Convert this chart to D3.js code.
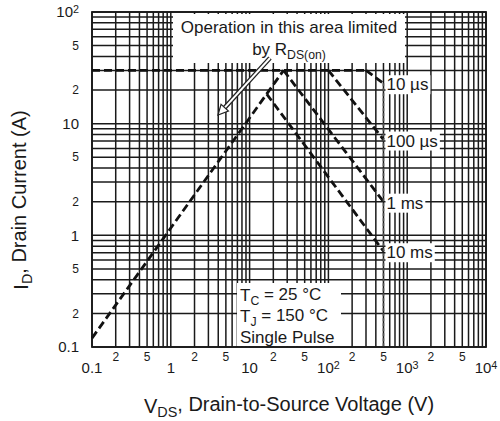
<!DOCTYPE html>
<html>
<head>
<meta charset="utf-8">
<script src="https://cdn.jsdelivr.net/npm/d3@7"></script>
<style>
  body { margin: 0; background: #fff; }
  text { font-family: "Liberation Sans", Arial, sans-serif; fill: #1a1a1a; }
</style>
</head>
<body>
<div class="chart"></div>
<script>
// size
var w = 500;
var h = 421;

// axes
const xDecades = [0.1, 1, 10, 100, 1000, 10000];
const xMajorLabels = ["0.1", "1", "10", "10|2", "10|3", "10|4"];
const yDecades = [0.1, 1, 10, 100];
const yMajorLabels = ["0.1", "1", "10", "10|2"];
const minorLabelled = [2, 5];

// SOA limit lines (V, A)
const rdsLimit = [[0.1, 0.12], [27, 30]];
const currentLimit = [[0.1, 30], [300, 30]];
const pulse10us = [[300, 30], [500, 23]];
const pulse100us = [[100, 30], [500, 7.2]];
const pulse1ms = [[27, 30], [500, 2.0]];
const pulse10ms = [[16.5, 18.4], [500, 0.72]];
const vdssLimit = [[500, 23], [500, 0.1]];
const pulseLabels = ["10 µs", "100 µs", "1 ms", "10 ms"];

const svg = d3.select(".chart")
  .append("svg")
  .attr("width", w)
  .attr("height", h);

svg.append("rect").attr("width", w).attr("height", h).attr("fill", "#fff");

const x = d3.scaleLog().domain([0.1, 10000]).range([92, 486]);
const y = d3.scaleLog().domain([0.1, 100]).range([347, 12]);

// every 1..9 value of each decade
function gridValues(decades) {
  const out = [];
  decades.forEach((d, i) => {
    if (i === decades.length - 1) { out.push(d); return; }
    for (let k = 1; k <= 9; k++) out.push(k * d);
  });
  return out;
}

const g = svg.append("g");

// grid
g.selectAll(".vgrid")
  .data(gridValues(xDecades))
  .enter()
  .append("line")
  .attr("x1", d => x(d)).attr("x2", d => x(d))
  .attr("y1", y(0.1)).attr("y2", y(100))
  .attr("stroke", "#1a1a1a")
  .attr("stroke-width", 1.5);

g.selectAll(".hgrid")
  .data(gridValues(yDecades))
  .enter()
  .append("line")
  .attr("y1", d => y(d)).attr("y2", d => y(d))
  .attr("x1", x(0.1)).attr("x2", x(10000))
  .attr("stroke", "#1a1a1a")
  .attr("stroke-width", 1.5);

g.append("rect")
  .attr("x", x(0.1)).attr("y", y(100))
  .attr("width", x(10000) - x(0.1))
  .attr("height", y(0.1) - y(100))
  .attr("fill", "none")
  .attr("stroke", "#1a1a1a")
  .attr("stroke-width", 1.8);

// white boxes behind the notes
g.append("rect").attr("x", 173).attr("y", 14).attr("width", 232).attr("height", 49).attr("fill", "#fff");
g.append("rect").attr("x", 237).attr("y", 283).attr("width", 104).attr("height", 63).attr("fill", "#fff");

// helper: text with a subscript
function subText(sel, main, sub, rest) {
  sel.append("tspan").text(main);
  sel.append("tspan").attr("dy", "0.3em").attr("font-size", "0.72em").text(sub);
  sel.append("tspan").attr("dy", "-0.3em").text(rest);
  return sel;
}

// limit lines
const line = d3.line().x(d => x(d[0])).y(d => y(d[1]));
[rdsLimit, currentLimit, pulse10us, pulse100us, pulse1ms, pulse10ms].forEach(s => {
  g.append("path")
    .datum(s)
    .attr("d", line)
    .attr("fill", "none")
    .attr("stroke", "#111")
    .attr("stroke-width", 2.8)
    .attr("stroke-dasharray", "8,4");
});

g.append("path")
  .datum(vdssLimit)
  .attr("d", line)
  .attr("fill", "none")
  .attr("stroke", "#555")
  .attr("stroke-width", 1.6)
  .attr("stroke-dasharray", "3,2");

// pulse labels with white background
[pulse10us, pulse100us, pulse1ms, pulse10ms].forEach((s, i) => {
  const end = s[s.length - 1];
  const lg = g.append("g");
  const t = lg.append("text")
    .attr("x", x(end[0]) + 3)
    .attr("y", y(end[1]) + 1)
    .attr("dy", "0.35em")
    .attr("font-size", 17)
    .text(pulseLabels[i]);
  const b = t.node().getBBox();
  lg.insert("rect", "text")
    .attr("x", b.x - 1).attr("y", b.y)
    .attr("width", b.width + 3).attr("height", b.height)
    .attr("fill", "#fff");
});

// R_DS(on) note
g.append("text").attr("x", 289).attr("y", 33)
  .attr("text-anchor", "middle").attr("font-size", 17)
  .text("Operation in this area limited");
subText(g.append("text").attr("x", 289).attr("y", 55)
  .attr("text-anchor", "middle").attr("font-size", 17), "by R", "DS(on)", "");

// hollow arrow
const a0 = [270, 58], a1 = [218, 115];
const len = Math.hypot(a1[0] - a0[0], a1[1] - a0[1]);
const ux = (a1[0] - a0[0]) / len, uy = (a1[1] - a0[1]) / len;
const bx = a1[0] - 10 * ux, by = a1[1] - 10 * uy;
g.append("line").attr("x1", a0[0]).attr("y1", a0[1]).attr("x2", bx).attr("y2", by)
  .attr("stroke", "#222").attr("stroke-width", 4.5);
g.append("line").attr("x1", a0[0]).attr("y1", a0[1]).attr("x2", bx).attr("y2", by)
  .attr("stroke", "#fff").attr("stroke-width", 2);
g.append("polygon")
  .attr("points", [[a1[0], a1[1]], [bx - 5 * uy, by + 5 * ux], [bx + 5 * uy, by - 5 * ux]].join(" "))
  .attr("fill", "#fff").attr("stroke", "#222").attr("stroke-width", 1.2);

// conditions note
subText(g.append("text").attr("x", 240).attr("y", 301).attr("font-size", 17), "T", "C", " = 25 °C");
subText(g.append("text").attr("x", 240).attr("y", 322).attr("font-size", 17), "T", "J", " = 150 °C");
g.append("text").attr("x", 240).attr("y", 343).attr("font-size", 17).text("Single Pulse");

// tick labels: "10|2" means 10 with superscript 2
function powLabel(sel, lab) {
  const p = lab.split("|");
  sel.append("tspan").text(p[0]);
  if (p[1]) sel.append("tspan").attr("dy", "-0.35em").attr("font-size", "0.72em").text(p[1]);
}

xDecades.forEach((d, i) => {
  powLabel(svg.append("text").attr("x", x(d)).attr("y", 373)
    .attr("text-anchor", "middle").attr("font-size", 15), xMajorLabels[i]);
  if (i < xDecades.length - 1) {
    minorLabelled.forEach(k => {
      svg.append("text").attr("x", x(k * d)).attr("y", 361)
        .attr("text-anchor", "middle").attr("font-size", 12).text(k);
    });
  }
});

yDecades.forEach((d, i) => {
  powLabel(svg.append("text").attr("x", 79).attr("y", y(d)).attr("dy", "0.35em")
    .attr("text-anchor", "end").attr("font-size", 15), yMajorLabels[i]);
  if (i < yDecades.length - 1) {
    minorLabelled.forEach(k => {
      svg.append("text").attr("x", 79).attr("y", y(k * d)).attr("dy", "0.35em")
        .attr("text-anchor", "end").attr("font-size", 12).text(k);
    });
  }
});

// axis titles
subText(svg.append("text").attr("x", 289).attr("y", 413)
  .attr("text-anchor", "middle").attr("font-size", 20),
  "V", "DS", ", Drain-to-Source Voltage (V)");

subText(svg.append("text")
  .attr("transform", "translate(28,200) rotate(-90)")
  .attr("text-anchor", "middle").attr("font-size", 20),
  "I", "D", ", Drain Current (A)");
</script>
</body>
</html>
